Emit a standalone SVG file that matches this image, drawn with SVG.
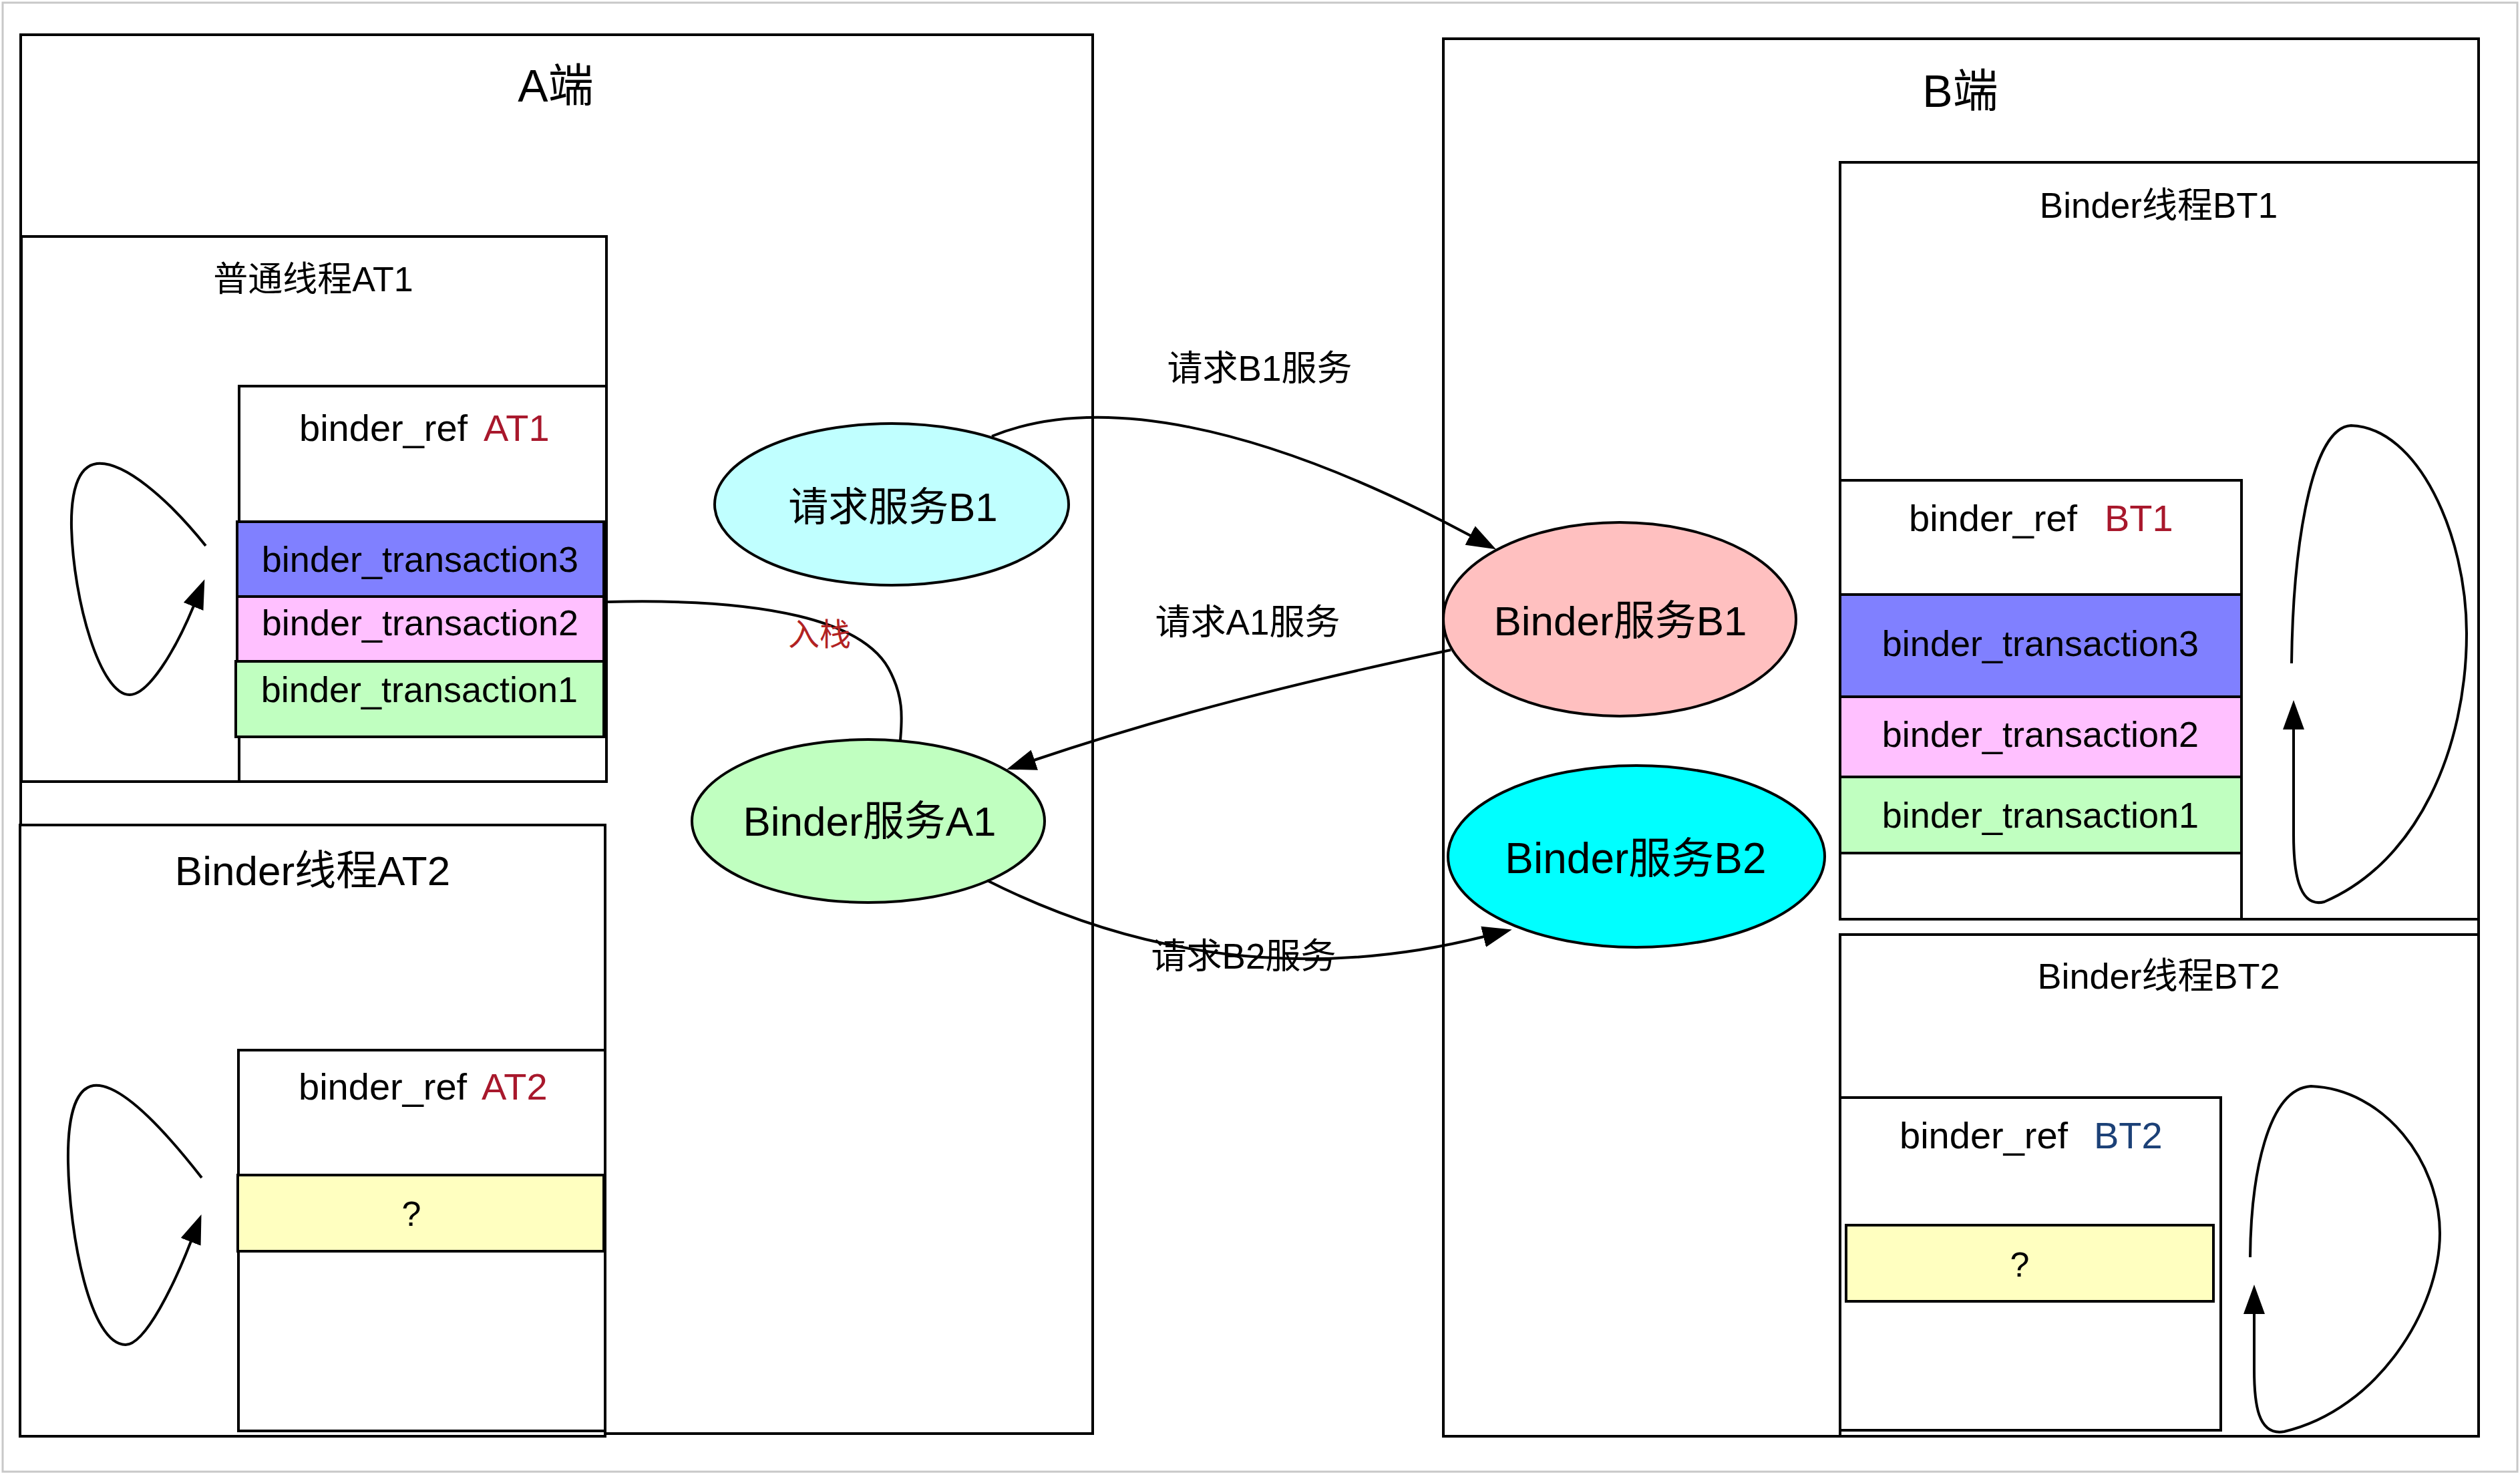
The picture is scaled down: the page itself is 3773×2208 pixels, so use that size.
<svg xmlns="http://www.w3.org/2000/svg" width="3773" height="2208" viewBox="0 0 3773 2208">
<style>
.box{fill:#fff;stroke:#000;stroke-width:4}
.t{font-family:"Liberation Sans","Noto Sans CJK SC",sans-serif;fill:#000}
.c{text-anchor:middle}
.edge{fill:none;stroke:#000;stroke-width:4}
.red{fill:#A8182C}
.blue{fill:#1C4177}
.f3{fill:#8080FF;stroke:#000;stroke-width:4}
.f2{fill:#FFC0FF;stroke:#000;stroke-width:4}
.f1{fill:#C0FFC0;stroke:#000;stroke-width:4}
.fq{fill:#FFFFC0;stroke:#000;stroke-width:4}
.ell{stroke:#000;stroke-width:4}
</style>
<defs>
<marker id="arr" markerUnits="userSpaceOnUse" markerWidth="44" markerHeight="32" viewBox="0 0 44 32" refX="1" refY="16" orient="auto"><path d="M0,0 L44,16 L0,32 z" fill="#000"/></marker>
</defs>
<rect x="0" y="0" width="3773" height="2208" fill="#fff"/>
<rect x="4" y="4" width="3765" height="2199" fill="none" stroke="#C8C8C8" stroke-width="3"/>

<g id="A-side">
<rect class="box" x="31" y="52" width="1605" height="2094"/>
<text class="t c" x="832" y="152" font-size="68">A端</text>
</g>

<g id="thread-AT1">
<rect class="box" x="32" y="354" width="876" height="816"/>
<text class="t c" x="469" y="436" font-size="52">普通线程AT1</text>
</g>
<g id="binder-ref-AT1">
<rect class="box" x="358" y="578" width="550" height="592"/>
<text class="t" y="660" font-size="56"><tspan x="448">binder_ref</tspan><tspan x="724" class="red">AT1</tspan></text>
<rect class="f3" x="355" y="781" width="549" height="112"/>
<text class="t c" x="629" y="856" font-size="54">binder_transaction3</text>
<rect class="f2" x="355" y="893" width="549" height="97"/>
<text class="t c" x="629" y="951" font-size="54">binder_transaction2</text>
<rect class="f1" x="353" y="990" width="551" height="113"/>
<text class="t c" x="628" y="1051" font-size="54">binder_transaction1</text>
</g>

<g id="thread-AT2">
<rect class="box" x="30" y="1235" width="876" height="915"/>
<text class="t c" x="468" y="1325" font-size="62">Binder线程AT2</text>
</g>
<g id="binder-ref-AT2">
<rect class="box" x="357" y="1572" width="549" height="570"/>
<text class="t" y="1646" font-size="56"><tspan x="447">binder_ref</tspan><tspan x="721" class="red">AT2</tspan></text>
<rect class="fq" x="356" y="1759" width="548" height="114"/>
<text class="t c" x="616" y="1835" font-size="52">?</text>
</g>

<g id="B-side">
<rect class="box" x="2161" y="58" width="1550" height="2092"/>
<text class="t c" x="2935" y="160" font-size="68">B端</text>
</g>

<g id="thread-BT1">
<rect class="box" x="2755" y="243" width="956" height="1133"/>
<text class="t c" x="3232" y="326" font-size="53">Binder线程BT1</text>
</g>
<g id="binder-ref-BT1">
<rect class="box" x="2755" y="719" width="601" height="657"/>
<text class="t" y="795" font-size="56"><tspan x="2858">binder_ref</tspan><tspan x="3151" class="red">BT1</tspan></text>
<rect class="f3" x="2755" y="890" width="601" height="153"/>
<text class="t c" x="3055" y="982" font-size="54">binder_transaction3</text>
<rect class="f2" x="2755" y="1043" width="601" height="120"/>
<text class="t c" x="3055" y="1118" font-size="54">binder_transaction2</text>
<rect class="f1" x="2755" y="1163" width="601" height="114"/>
<text class="t c" x="3055" y="1239" font-size="54">binder_transaction1</text>
</g>

<g id="thread-BT2">
<rect class="box" x="2755" y="1399" width="956" height="751"/>
<text class="t c" x="3232" y="1480" font-size="54">Binder线程BT2</text>
</g>
<g id="binder-ref-BT2">
<rect class="box" x="2755" y="1643" width="570" height="498"/>
<text class="t" y="1719" font-size="56"><tspan x="2844">binder_ref</tspan><tspan x="3135" class="blue">BT2</tspan></text>
<rect class="fq" x="2764" y="1834" width="550" height="114"/>
<text class="t c" x="3024" y="1911" font-size="52">?</text>
</g>

<g id="req-B1">
<ellipse class="ell" cx="1335" cy="755" rx="265" ry="121" fill="#C0FFFF"/>
<text class="t c" x="1337" y="780" font-size="60">请求服务B1</text>
</g>
<g id="service-A1">
<ellipse class="ell" cx="1300" cy="1229" rx="264" ry="122" fill="#C0FFC0"/>
<text class="t c" x="1302" y="1251" font-size="62">Binder服务A1</text>
</g>
<g id="service-B1">
<ellipse class="ell" cx="2425" cy="927" rx="264" ry="145" fill="#FFC0C0"/>
<text class="t c" x="2426" y="951" font-size="62">Binder服务B1</text>
</g>
<g id="service-B2">
<ellipse class="ell" cx="2450" cy="1282" rx="282" ry="136" fill="#00FFFF"/>
<text class="t c" x="2449" y="1307" font-size="64">Binder服务B2</text>
</g>

<g id="connectors">
<path class="edge" marker-end="url(#arr)" d="M1485,653 C1640,590 1880,630 2202,802"/>
<text class="t c" x="1886" y="570" font-size="53">请求B1服务</text>
<path class="edge" marker-end="url(#arr)" d="M2172,973 C1950,1020 1750,1070 1548,1138"/>
<text class="t c" x="1868" y="950" font-size="53">请求A1服务</text>
<path class="edge" marker-end="url(#arr)" d="M1478,1318 C1700,1430 1950,1470 2222,1402"/>
<text class="t c" x="1862" y="1450" font-size="53">请求B2服务</text>
<path class="edge" d="M910,901 C1150,895 1290,930 1330,1000 C1355,1045 1350,1080 1348,1108"/>
<text class="t c" x="1227" y="966" font-size="47" style="fill:#B22222">入栈</text>
<path class="edge" marker-end="url(#arr)" d="M308,817 C250,745 185,690 145,694 C115,698 106,740 107,790 C110,900 150,1040 194,1040 C222,1040 262,975 290,907"/>
<path class="edge" marker-end="url(#arr)" d="M302,1763 C245,1690 180,1620 140,1625 C110,1630 101,1680 102,1740 C104,1850 135,2013 188,2013 C218,2013 262,1920 286,1858"/>
<path class="edge" marker-end="url(#arr)" d="M3431,993 C3433,820 3460,640 3520,637 C3620,640 3693,800 3693,948 C3693,1120 3620,1290 3480,1350 C3440,1360 3434,1300 3434,1250 L3434,1091"/>
<path class="edge" marker-end="url(#arr)" d="M3369,1882 C3370,1760 3395,1630 3460,1626 C3570,1630 3653,1740 3653,1846 C3653,1960 3560,2110 3420,2143 C3380,2150 3375,2100 3375,2050 L3375,1966"/>
</g>
</svg>
